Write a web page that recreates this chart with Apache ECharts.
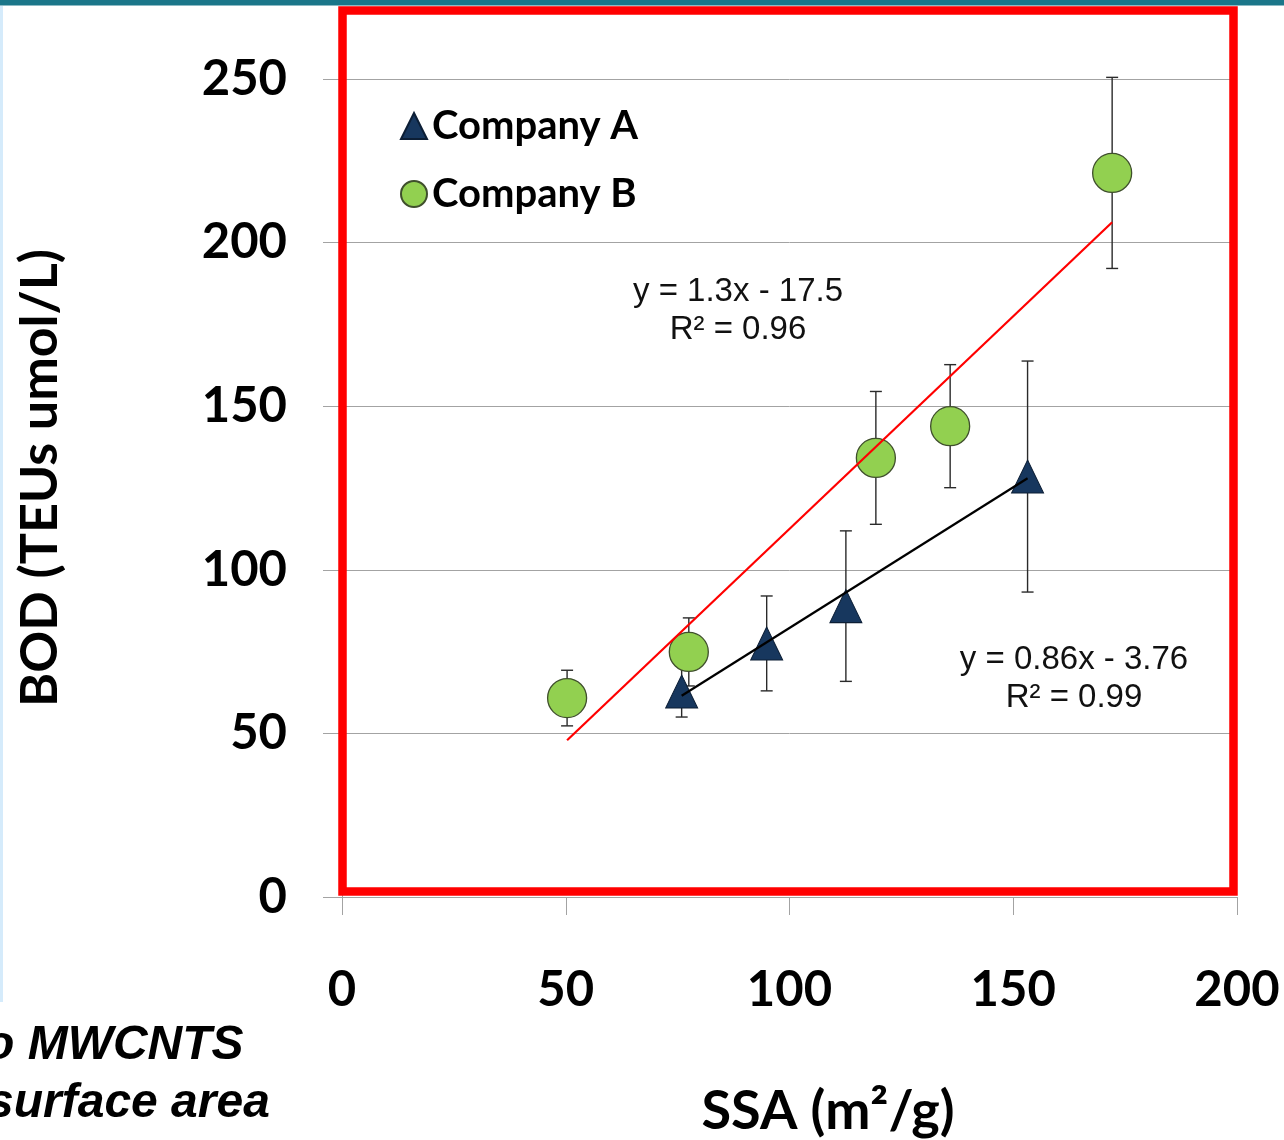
<!DOCTYPE html>
<html>
<head>
<meta charset="utf-8">
<script src="https://cdn.jsdelivr.net/npm/echarts@6/dist/echarts.min.js"></script>
<style>
  html, body { margin: 0; padding: 0; background: #ffffff; overflow: hidden; }
  #chart { width: 1284px; height: 1140px; }
</style>
</head>
<body>
<div id="chart"></div>
<script>
// Specific surface area (m²/g) vs BOD (TEUs umol/L), mean ± error per sample
const ssaA = [75.9, 94.9, 112.6, 153.2];
const bodA = [62.8, 77.5, 88.9, 128.5];
const errA = [7.8, 14.5, 23.0, 35.3];

const ssaB = [50.3, 77.5, 119.3, 135.9, 172.1];
const bodB = [60.8, 74.9, 134.2, 143.9, 221.3];
const errB = [8.5, 10.4, 20.3, 18.8, 29.2];

// Linear fits printed next to each trend line
const fitA = { slope: 0.86, intercept: -3.76, r2: '0.99' };
const fitB = { slope: 1.3, intercept: -17.5, r2: '0.96' };

// Axis ticks
const xTicks = [0, 50, 100, 150, 200];
const yTicks = [0, 50, 100, 150, 200, 250];

const seriesNames = ['Company A', 'Company B'];

const BOLD_FONT = 'Lato';
const ARIAL = '"Liberation Sans", Arial, sans-serif';
const GRID_GREY = '#a3a3a3';

function points(xs, ys) { return xs.map((x, i) => [x, ys[i]]); }
function withErr(xs, ys, es) { return xs.map((x, i) => [x, ys[i], es[i]]); }

// Trend line over the x range of its series, from the printed equation
function fitLine(xs, fit) {
  const lo = Math.min.apply(null, xs), hi = Math.max.apply(null, xs);
  return [[lo, fit.slope * lo + fit.intercept], [hi, fit.slope * hi + fit.intercept]];
}
function fitText(fit) {
  const sign = fit.intercept < 0 ? '-' : '+';
  return 'y = ' + fit.slope + 'x ' + sign + ' ' + Math.abs(fit.intercept) + '\nR\u00B2 = ' + fit.r2;
}

// Vertical error bar with short caps
function errorBars(params, api) {
  const x = api.value(0), y = api.value(1), e = api.value(2);
  const top = api.coord([x, y + e]);
  const bot = api.coord([x, y - e]);
  const cap = 6;
  const style = { stroke: '#2a2a2a', lineWidth: 1.4 };
  return {
    type: 'group',
    children: [
      { type: 'line', shape: { x1: top[0], y1: top[1], x2: bot[0], y2: bot[1] }, style: style },
      { type: 'line', shape: { x1: top[0] - cap, y1: top[1], x2: top[0] + cap, y2: top[1] }, style: style },
      { type: 'line', shape: { x1: bot[0] - cap, y1: bot[1], x2: bot[0] + cap, y2: bot[1] }, style: style }
    ]
  };
}

const chart = echarts.init(document.getElementById('chart'), null, { renderer: 'canvas' });

const option = {
  backgroundColor: '#ffffff',
  animation: false,
  grid: { left: 342, right: 47, top: 79, bottom: 243, containLabel: false, outerBoundsMode: 'none' },
  legend: {
    data: [
      { name: seriesNames[0], icon: 'triangle' },
      { name: seriesNames[1], icon: 'circle' }
    ],
    orient: 'vertical',
    left: 395,
    top: 101,
    itemWidth: 26,
    itemHeight: 26,
    itemGap: 28,
    selectedMode: false,
    textStyle: { fontFamily: BOLD_FONT, fontWeight: 'bold', fontSize: 40, color: '#000', lineHeight: 40 }
  },
  xAxis: {
    type: 'value',
    min: xTicks[0],
    max: xTicks[xTicks.length - 1],
    interval: xTicks[1] - xTicks[0],
    axisLine: { show: true, lineStyle: { color: GRID_GREY, width: 1 } },
    axisTick: { show: true, length: 18, lineStyle: { color: GRID_GREY, width: 1 } },
    splitLine: { show: false },
    axisLabel: { fontFamily: BOLD_FONT, fontWeight: 'bold', fontSize: 49, color: '#000', margin: 69 },
    name: 'SSA (m\u00B2/g)',
    nameLocation: 'middle',
    nameGap: 188,
    nameTextStyle: { fontFamily: BOLD_FONT, fontWeight: 'bold', fontSize: 54, color: '#000', padding: [0, 0, 0, 77] }
  },
  yAxis: {
    type: 'value',
    min: yTicks[0],
    max: yTicks[yTicks.length - 1],
    interval: yTicks[1] - yTicks[0],
    axisLine: { show: true, lineStyle: { color: GRID_GREY, width: 1 } },
    axisTick: { show: true, length: 19, lineStyle: { color: GRID_GREY, width: 1 } },
    splitLine: { show: true, lineStyle: { color: GRID_GREY, width: 1 } },
    axisLabel: { fontFamily: BOLD_FONT, fontWeight: 'bold', fontSize: 49, color: '#000', margin: 55 },
    name: 'BOD (TEUs umol/L)',
    nameLocation: 'middle',
    nameGap: 276,
    nameTextStyle: { fontFamily: BOLD_FONT, fontWeight: 'bold', fontSize: 52, color: '#000', padding: [0, 0, 0, 20] }
  },
  series: [
    {
      name: 'Company A error', type: 'custom', renderItem: errorBars,
      data: withErr(ssaA, bodA, errA), encode: { x: 0, y: 1 }, z: 2, silent: true
    },
    {
      name: 'Company B error', type: 'custom', renderItem: errorBars,
      data: withErr(ssaB, bodB, errB), encode: { x: 0, y: 1 }, z: 2, silent: true
    },
    {
      name: seriesNames[1], type: 'scatter', symbol: 'circle', symbolSize: 39,
      data: points(ssaB, bodB), z: 3,
      itemStyle: { color: '#92D050', borderColor: '#3f4f2c', borderWidth: 1.3, opacity: 1 }
    },
    {
      name: seriesNames[0], type: 'scatter', symbol: 'triangle', symbolSize: [32, 33],
      data: points(ssaA, bodA), z: 4,
      itemStyle: { color: '#17375E', borderColor: '#0c1e35', borderWidth: 1, opacity: 1 }
    },
    {
      name: 'Company B fit', type: 'line', data: fitLine(ssaB, fitB), symbol: 'none', z: 5, silent: true,
      lineStyle: { color: '#ff0000', width: 2.2 }
    },
    {
      name: 'Company A fit', type: 'line', data: fitLine(ssaA, fitA), symbol: 'none', z: 5, silent: true,
      lineStyle: { color: '#000000', width: 2.2 }
    }
  ],
  graphic: [
    { type: 'rect', z: 200, shape: { x: 0, y: 0, width: 1284, height: 5.5 }, style: { fill: '#1b7689' } },
    { type: 'rect', z: 200, shape: { x: 0, y: 6, width: 3, height: 996 }, style: { fill: '#d5ebfb' } },
    {
      type: 'rect', z: 150,
      shape: { x: 342.5, y: 10.5, width: 891, height: 881 },
      style: { fill: 'none', stroke: '#ff0000', lineWidth: 8.5 }
    },
    {
      type: 'text', z: 150, x: 738, y: 311,
      style: {
        text: fitText(fitB), fontFamily: ARIAL, fontSize: 33, fill: '#111',
        align: 'center', verticalAlign: 'middle', lineHeight: 38
      }
    },
    {
      type: 'text', z: 150, x: 1074, y: 679,
      style: {
        text: fitText(fitA), fontFamily: ARIAL, fontSize: 33, fill: '#111',
        align: 'center', verticalAlign: 'middle', lineHeight: 38
      }
    },
    {
      type: 'text', z: 150, x: -31, y: 1046,
      style: {
        text: 'to MWCNTS', fontFamily: ARIAL, fontSize: 48, fontWeight: 'bold', fontStyle: 'italic',
        fill: '#000', align: 'left', verticalAlign: 'middle'
      }
    },
    {
      type: 'text', z: 150, x: -13, y: 1104,
      style: {
        text: 'surface area', fontFamily: ARIAL, fontSize: 48, fontWeight: 'bold', fontStyle: 'italic',
        fill: '#000', align: 'left', verticalAlign: 'middle'
      }
    }
  ]
};

chart.setOption(option);
</script>
</body>
</html>
